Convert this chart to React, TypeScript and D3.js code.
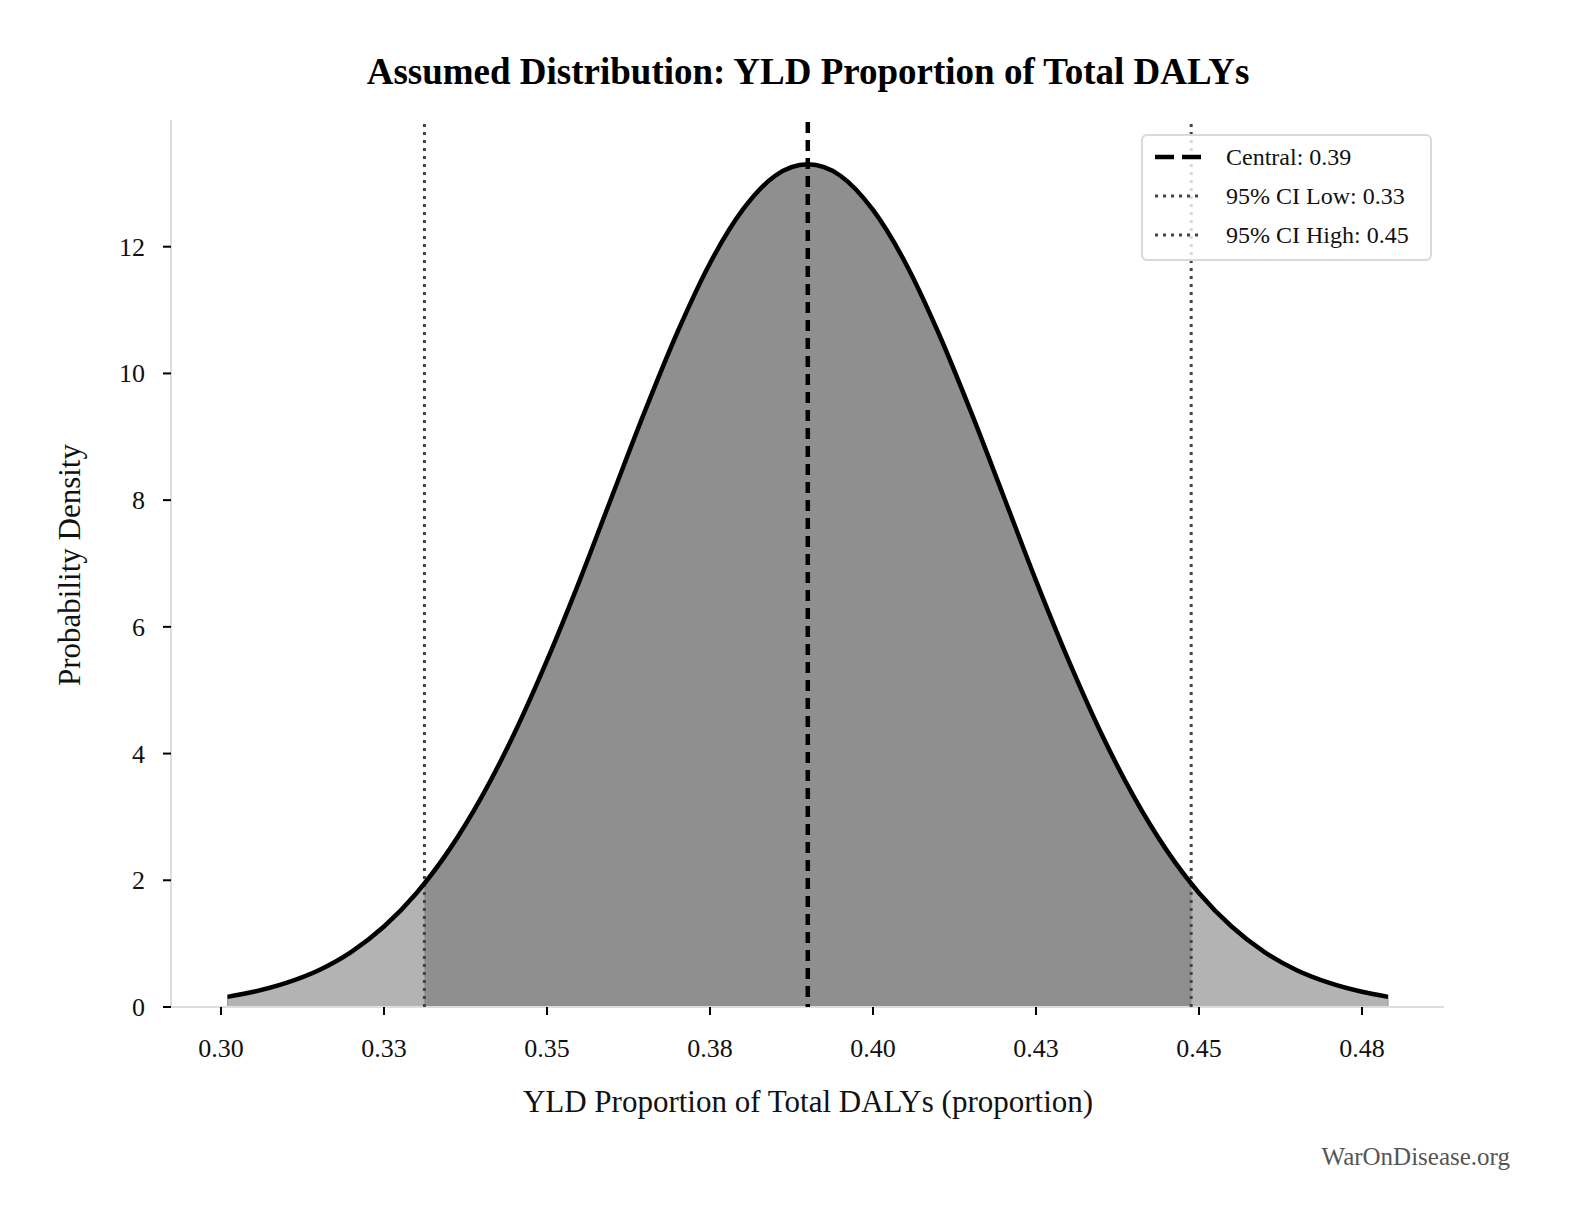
import React from "react";
import * as d3 from "d3";

// density curve
const xs = [
  0.301, 0.305, 0.31, 0.315, 0.32, 0.325, 0.33, 0.335, 0.34, 0.345, 0.35, 0.355, 0.36, 0.365,
  0.37, 0.375, 0.38, 0.385, 0.39, 0.395, 0.4, 0.405, 0.41, 0.415, 0.42, 0.425, 0.43, 0.435,
  0.44, 0.445, 0.45, 0.455, 0.46, 0.465, 0.47, 0.475, 0.479,
];
const density = [
  0.16, 0.24, 0.38, 0.58, 0.87, 1.27, 1.8, 2.48, 3.32, 4.32, 5.47, 6.73, 8.07, 9.4, 10.65,
  11.74, 12.58, 13.12, 13.3, 13.12, 12.58, 11.74, 10.65, 9.4, 8.07, 6.73, 5.47, 4.32, 3.32,
  2.48, 1.8, 1.27, 0.87, 0.58, 0.38, 0.24, 0.16,
];
const central = 0.39;
const ciLow = 0.3312;
const ciHigh = 0.4488;
const xTicks = [0.3, 0.325, 0.35, 0.375, 0.4, 0.425, 0.45, 0.475];
const xTickLabels = ["0.30", "0.33", "0.35", "0.38", "0.40", "0.43", "0.45", "0.48"];
const yTicks = [0, 2, 4, 6, 8, 10, 12];
const legendItems = ["Central: 0.39", "95% CI Low: 0.33", "95% CI High: 0.45"];

const W = 1570;
const H = 1230;
const margin = { top: 120, right: 126, bottom: 223, left: 171 };
const font = "'Liberation Serif', 'DejaVu Serif', serif";

export default function App() {
  const pts = xs.map((x, i) => ({ x, y: density[i] }));
  const x = d3.scaleLinear().domain([0.29233, 0.48758]).range([margin.left, W - margin.right]);
  const y = d3.scaleLinear().domain([0, 14.0]).range([H - margin.bottom, margin.top]);

  const curve = d3.curveMonotoneX;
  const line = d3.line<{ x: number; y: number }>().x((d) => x(d.x)).y((d) => y(d.y)).curve(curve);
  const area = d3
    .area<{ x: number; y: number }>()
    .x((d) => x(d.x))
    .y0(y(0))
    .y1((d) => y(d.y))
    .curve(curve);

  // value at CI bounds, read linearly between neighbouring points
  const at = (v: number) => {
    const i = d3.bisectLeft(xs, v);
    const t = (v - xs[i - 1]) / (xs[i] - xs[i - 1]);
    return { x: v, y: density[i - 1] + t * (density[i] - density[i - 1]) };
  };
  const leftTail = [...pts.filter((d) => d.x < ciLow), at(ciLow)];
  const mid = [at(ciLow), ...pts.filter((d) => d.x > ciLow && d.x < ciHigh), at(ciHigh)];
  const rightTail = [at(ciHigh), ...pts.filter((d) => d.x > ciHigh)];

  const x0 = margin.left;
  const x1 = W - margin.right;
  const yb = H - margin.bottom;

  return (
    <svg
      width={W}
      height={H}
      style={{ position: "absolute", left: 0, top: 0, display: "block", background: "#fff", fontFamily: font }}
    >
      <text x={808} y={84} textAnchor="middle" fontSize={37} fontWeight="bold" fill="#000">
        Assumed Distribution: YLD Proportion of Total DALYs
      </text>

      {/* fills */}
      <path d={area(leftTail) || ""} fill="#b3b3b3" stroke="#999" strokeWidth={1} />
      <path d={area(rightTail) || ""} fill="#b3b3b3" stroke="#999" strokeWidth={1} />
      <path d={area(mid) || ""} fill="#8f8f8f" />

      {/* spines */}
      <line x1={x0} x2={x0} y1={margin.top} y2={yb} stroke="#dddddd" strokeWidth={2} />
      <line x1={x0} x2={x1} y1={yb} y2={yb} stroke="#dddddd" strokeWidth={2} />

      {/* reference lines */}
      <line x1={x(ciLow)} x2={x(ciLow)} y1={margin.top + 4} y2={yb} stroke="#444" strokeWidth={3} strokeDasharray="3,5" />
      <line x1={x(ciHigh)} x2={x(ciHigh)} y1={margin.top + 4} y2={yb} stroke="#444" strokeWidth={3} strokeDasharray="3,5" />
      <path d={line(pts) || ""} fill="none" stroke="#000" strokeWidth={4.5} />
      <line x1={x(central)} x2={x(central)} y1={margin.top + 2} y2={yb} stroke="#000" strokeWidth={4.5} strokeDasharray="11,7" />

      {/* x axis */}
      {xTicks.map((t, i) => (
        <g key={t}>
          <line x1={x(t)} x2={x(t)} y1={yb} y2={yb + 8} stroke="#000" strokeWidth={2} />
          <text x={x(t)} y={1057} textAnchor="middle" fontSize={26} fill="#111">
            {xTickLabels[i]}
          </text>
        </g>
      ))}
      {/* y axis */}
      {yTicks.map((t) => (
        <g key={t}>
          <line x1={x0 - 8} x2={x0} y1={y(t)} y2={y(t)} stroke="#000" strokeWidth={2} />
          <text x={x0 - 26} y={y(t) + 9} textAnchor="end" fontSize={26} fill="#111">
            {t}
          </text>
        </g>
      ))}

      <text x={808} y={1112} textAnchor="middle" fontSize={31} fill="#111">
        YLD Proportion of Total DALYs (proportion)
      </text>
      <text
        transform={`translate(80,565) rotate(-90)`}
        textAnchor="middle"
        fontSize={31}
        fill="#111"
      >
        Probability Density
      </text>

      {/* legend */}
      <g transform="translate(1142,135)">
        <rect x={0} y={0} width={289} height={125} rx={5} fill="#fff" fillOpacity={0.8} stroke="#d9d9d9" strokeWidth={2} />
        {legendItems.map((s, i) => (
          <g key={s} transform={`translate(0,${22 + i * 39})`}>
            <line
              x1={13}
              x2={59}
              y1={0}
              y2={0}
              stroke={i === 0 ? "#000" : "#444"}
              strokeWidth={i === 0 ? 4.5 : 3}
              strokeDasharray={i === 0 ? "19,8" : "3,5"}
            />
            <text x={84} y={8} fontSize={24} fill="#111">
              {s}
            </text>
          </g>
        ))}
      </g>

      <text x={1510} y={1165} textAnchor="end" fontSize={25} fill="#555">
        WarOnDisease.org
      </text>
    </svg>
  );
}
